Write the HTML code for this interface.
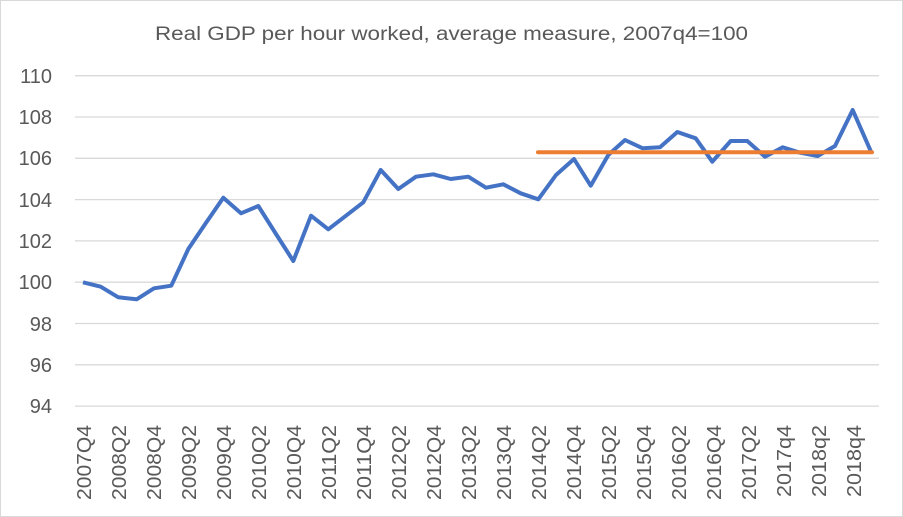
<!DOCTYPE html>
<html><head><meta charset="utf-8"><style>
html,body{margin:0;padding:0;background:#fff}
svg{display:block;font-family:"Liberation Sans",sans-serif}
</style></head><body>
<svg width="903" height="517" viewBox="0 0 903 517">
<rect x="0.5" y="0.5" width="902" height="516" fill="#fff" stroke="#d9d9d9"/>
<text x="155" y="40" font-size="19" fill="#595959" textLength="593" lengthAdjust="spacingAndGlyphs">Real GDP per hour worked, average measure, 2007q4=100</text>
<g stroke="#d9d9d9" stroke-width="1.3">
<line x1="75" x2="879" y1="75.7" y2="75.7"/><line x1="75" x2="879" y1="117" y2="117"/>
<line x1="75" x2="879" y1="158.3" y2="158.3"/><line x1="75" x2="879" y1="199.6" y2="199.6"/>
<line x1="75" x2="879" y1="240.9" y2="240.9"/><line x1="75" x2="879" y1="282.2" y2="282.2"/>
<line x1="75" x2="879" y1="323.5" y2="323.5"/><line x1="75" x2="879" y1="364.8" y2="364.8"/>
<line x1="75" x2="879" y1="406.1" y2="406.1"/>
</g>
<g font-size="20" fill="#595959" text-anchor="end">
<text x="52" y="83">110</text><text x="52" y="124">108</text><text x="52" y="165">106</text>
<text x="52" y="207">104</text><text x="52" y="248">102</text><text x="52" y="289">100</text>
<text x="52" y="331">98</text><text x="52" y="372">96</text><text x="52" y="413">94</text>
</g>
<polyline fill="none" stroke="#4472c4" stroke-width="4" stroke-linejoin="round" points="83,282.3 100.7,286.7 118.3,297.3 136.7,299.3 154,288.3 171.3,285.7 188.3,249 205.7,223.3 223.3,197.7 241,213.3 258.3,206 276,234 293.3,261 311,215.7 328.3,229.3 346,215.7 363.3,202.3 380.7,170 398.3,189 416,176.7 433.3,174.3 450.7,179 468.3,176.7 486,187.7 503.3,184.3 520.7,193.3 538.3,199.3 556,175 574,159 590.7,185.7 608.3,155 625,140 642.7,148.3 660,147.3 677.3,132 695.7,138.3 712.3,161.7 730.7,141 747.3,141 765,156.7 782.7,147.3 800,152.7 817.7,156 835,146 852.7,110 871,151.7"/>
<line x1="538" x2="872" y1="152.3" y2="152.3" stroke="#ed7d31" stroke-width="4" stroke-linecap="round"/>
<g font-size="20" fill="#595959" text-anchor="end">
<text transform="translate(91,425) rotate(-90)" textLength="75" lengthAdjust="spacingAndGlyphs">2007Q4</text>
<text transform="translate(126,425) rotate(-90)" textLength="75" lengthAdjust="spacingAndGlyphs">2008Q2</text>
<text transform="translate(161,425) rotate(-90)" textLength="75" lengthAdjust="spacingAndGlyphs">2008Q4</text>
<text transform="translate(196,425) rotate(-90)" textLength="75" lengthAdjust="spacingAndGlyphs">2009Q2</text>
<text transform="translate(231,425) rotate(-90)" textLength="75" lengthAdjust="spacingAndGlyphs">2009Q4</text>
<text transform="translate(266,425) rotate(-90)" textLength="75" lengthAdjust="spacingAndGlyphs">2010Q2</text>
<text transform="translate(301,425) rotate(-90)" textLength="75" lengthAdjust="spacingAndGlyphs">2010Q4</text>
<text transform="translate(336,425) rotate(-90)" textLength="75" lengthAdjust="spacingAndGlyphs">2011Q2</text>
<text transform="translate(371,425) rotate(-90)" textLength="75" lengthAdjust="spacingAndGlyphs">2011Q4</text>
<text transform="translate(406,425) rotate(-90)" textLength="75" lengthAdjust="spacingAndGlyphs">2012Q2</text>
<text transform="translate(441,425) rotate(-90)" textLength="75" lengthAdjust="spacingAndGlyphs">2012Q4</text>
<text transform="translate(476,425) rotate(-90)" textLength="75" lengthAdjust="spacingAndGlyphs">2013Q2</text>
<text transform="translate(511,425) rotate(-90)" textLength="75" lengthAdjust="spacingAndGlyphs">2013Q4</text>
<text transform="translate(546,425) rotate(-90)" textLength="75" lengthAdjust="spacingAndGlyphs">2014Q2</text>
<text transform="translate(581,425) rotate(-90)" textLength="75" lengthAdjust="spacingAndGlyphs">2014Q4</text>
<text transform="translate(616,425) rotate(-90)" textLength="75" lengthAdjust="spacingAndGlyphs">2015Q2</text>
<text transform="translate(651,425) rotate(-90)" textLength="75" lengthAdjust="spacingAndGlyphs">2015Q4</text>
<text transform="translate(686,425) rotate(-90)" textLength="75" lengthAdjust="spacingAndGlyphs">2016Q2</text>
<text transform="translate(721,425) rotate(-90)" textLength="75" lengthAdjust="spacingAndGlyphs">2016Q4</text>
<text transform="translate(756,425) rotate(-90)" textLength="75" lengthAdjust="spacingAndGlyphs">2017Q2</text>
<text transform="translate(791,425) rotate(-90)" textLength="72" lengthAdjust="spacingAndGlyphs">2017q4</text>
<text transform="translate(826,425) rotate(-90)" textLength="72" lengthAdjust="spacingAndGlyphs">2018q2</text>
<text transform="translate(861,425) rotate(-90)" textLength="72" lengthAdjust="spacingAndGlyphs">2018q4</text>
</g>
</svg>
</body></html>
